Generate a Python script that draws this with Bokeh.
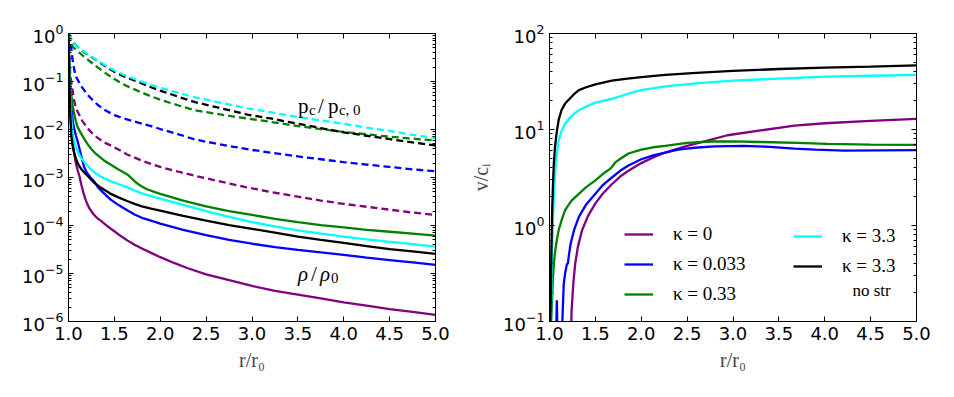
from bokeh.plotting import figure
from bokeh.layouts import row
from bokeh.models import (Range1d, FixedTicker, PrintfTickFormatter, LinearAxis, LogAxis,
                          Legend, LegendItem, Label, CustomJSTickFormatter)
from bokeh.embed import file_html
from bokeh.resources import INLINE

# ---------------- data (stored as log10 of the quantity) -------------
COLORS = {"k0": "#800080", "k0033": "#0000ff", "k033": "#008000", "k33": "#00ffff", "k33ns": "#000000"}

# Left panel: density rho/rho0 (solid)
RHO_X_K0 = [1.0, 1.005, 1.01, 1.02, 1.03, 1.045, 1.065, 1.08, 1.1, 1.12, 1.14, 1.16, 1.18, 1.2, 1.23, 1.27, 1.31, 1.35, 1.42, 1.5, 1.57, 1.64, 1.72, 1.8, 1.9, 2.0, 2.15, 2.3, 2.5, 2.75, 3.0, 3.25, 3.5, 3.75, 4.0, 4.25, 4.5, 4.75, 5.0]
RHO_LOG_K0 = [0, -0.6, -1.0, -1.6, -1.98, -2.3, -2.53, -2.7, -2.85, -2.98, -3.15, -3.30, -3.43, -3.53, -3.65, -3.76, -3.84, -3.90, -4.01, -4.12, -4.22, -4.31, -4.40, -4.48, -4.57, -4.66, -4.78, -4.89, -5.02, -5.14, -5.26, -5.36, -5.44, -5.52, -5.60, -5.67, -5.74, -5.80, -5.86]
RHO_X_K0033 = [1.0, 1.005, 1.01, 1.02, 1.03, 1.047, 1.065, 1.08, 1.1, 1.12, 1.145, 1.17, 1.2, 1.24, 1.28, 1.32, 1.37, 1.46, 1.55, 1.64, 1.72, 1.8, 1.9, 2.0, 2.25, 2.5, 2.75, 3.0, 3.25, 3.5, 3.75, 4.0, 4.25, 4.5, 4.75, 5.0]
RHO_LOG_K0033 = [0, -0.5, -0.9, -1.25, -1.5, -1.84, -2.0, -2.12, -2.25, -2.40, -2.60, -2.78, -2.90, -3.0, -3.08, -3.20, -3.30, -3.46, -3.58, -3.68, -3.77, -3.84, -3.90, -3.96, -4.09, -4.20, -4.30, -4.38, -4.45, -4.51, -4.56, -4.61, -4.67, -4.72, -4.77, -4.82]
RHO_X_K033 = [1.0, 1.005, 1.01, 1.02, 1.03, 1.045, 1.065, 1.08, 1.1, 1.13, 1.17, 1.21, 1.25, 1.3, 1.39, 1.45, 1.5, 1.55, 1.6, 1.65, 1.7, 1.74, 1.77, 1.81, 1.85, 1.92, 2.0, 2.25, 2.5, 2.75, 3.0, 3.25, 3.5, 3.75, 4.0, 4.25, 4.5, 4.75, 5.0]
RHO_LOG_K033 = [0, -0.4, -0.7, -1.05, -1.28, -1.50, -1.70, -1.83, -1.95, -2.06, -2.19, -2.31, -2.41, -2.51, -2.65, -2.72, -2.78, -2.84, -2.89, -2.95, -3.04, -3.11, -3.15, -3.20, -3.24, -3.29, -3.34, -3.48, -3.60, -3.70, -3.78, -3.86, -3.93, -3.99, -4.04, -4.09, -4.13, -4.17, -4.21]
RHO_X_K33 = [1.0, 1.005, 1.01, 1.018, 1.025, 1.035, 1.047, 1.065, 1.09, 1.115, 1.14, 1.17, 1.2, 1.24, 1.28, 1.35, 1.45, 1.55, 1.64, 1.72, 1.8, 1.9, 2.0, 2.25, 2.5, 2.75, 3.0, 3.25, 3.5, 3.75, 4.0, 4.25, 4.5, 4.75, 5.0]
RHO_LOG_K33 = [0, -0.5, -0.9, -1.3, -1.6, -1.9, -2.10, -2.28, -2.42, -2.52, -2.60, -2.67, -2.74, -2.82, -2.89, -2.98, -3.07, -3.14, -3.20, -3.27, -3.33, -3.39, -3.44, -3.57, -3.70, -3.82, -3.93, -4.02, -4.10, -4.17, -4.23, -4.29, -4.34, -4.39, -4.44]
RHO_X_K33NS = [1.0, 1.005, 1.01, 1.015, 1.02, 1.03, 1.045, 1.06, 1.08, 1.095, 1.12, 1.15, 1.18, 1.21, 1.25, 1.28, 1.35, 1.45, 1.55, 1.64, 1.72, 1.8, 1.9, 2.0, 2.25, 2.5, 2.75, 3.0, 3.25, 3.5, 3.75, 4.0, 4.25, 4.5, 4.75, 5.0]
RHO_LOG_K33NS = [0, -0.5, -1.0, -1.4, -1.7, -2.12, -2.33, -2.47, -2.60, -2.68, -2.77, -2.85, -2.91, -2.97, -3.05, -3.11, -3.21, -3.33, -3.42, -3.49, -3.55, -3.60, -3.65, -3.69, -3.80, -3.90, -3.99, -4.07, -4.15, -4.23, -4.30, -4.36, -4.43, -4.49, -4.54, -4.59]

# Left panel: pressure pc/pc,0 (dashed)
PC_X_K0 = [1.0, 1.01, 1.02, 1.036, 1.06, 1.08, 1.1, 1.15, 1.21, 1.28, 1.38, 1.5, 1.64, 1.8, 2.0, 2.2, 2.37, 2.6, 2.93, 3.2, 3.5, 3.75, 4.0, 4.25, 4.5, 4.75, 5.0]
PC_LOG_K0 = [0, -0.5, -0.875, -1.08, -1.38, -1.55, -1.63, -1.82, -1.98, -2.12, -2.26, -2.37, -2.52, -2.65, -2.78, -2.88, -2.96, -3.06, -3.20, -3.30, -3.40, -3.48, -3.55, -3.61, -3.67, -3.73, -3.78]
PC_X_K0033 = [1.0, 1.015, 1.03, 1.045, 1.065, 1.09, 1.14, 1.2, 1.26, 1.32, 1.4, 1.5, 1.6, 1.75, 1.9, 2.0, 2.2, 2.38, 2.6, 2.8, 2.98, 3.2, 3.5, 3.75, 4.0, 4.25, 4.5, 4.75, 5.0]
PC_LOG_K0033 = [0, -0.12, -0.31, -0.55, -0.78, -0.93, -1.10, -1.26, -1.38, -1.49, -1.60, -1.70, -1.77, -1.85, -1.93, -1.99, -2.10, -2.21, -2.29, -2.36, -2.42, -2.48, -2.56, -2.62, -2.68, -2.73, -2.78, -2.83, -2.87]
PC_X_K033 = [1.0, 1.02, 1.047, 1.1, 1.15, 1.2, 1.3, 1.4, 1.5, 1.62, 1.75, 1.9, 2.0, 2.2, 2.38, 2.6, 2.8, 2.95, 3.2, 3.5, 3.75, 4.0, 4.25, 4.5, 4.75, 5.0]
PC_LOG_K033 = [0, -0.15, -0.28, -0.37, -0.45, -0.53, -0.68, -0.82, -0.95, -1.08, -1.19, -1.31, -1.38, -1.50, -1.60, -1.67, -1.73, -1.77, -1.84, -1.93, -1.99, -2.05, -2.10, -2.15, -2.19, -2.23]
PC_X_K33 = [1.0, 1.03, 1.065, 1.1, 1.15, 1.2, 1.25, 1.3, 1.4, 1.5, 1.6, 1.75, 1.9, 2.0, 2.2, 2.38, 2.6, 2.8, 2.95, 3.2, 3.5, 3.75, 4.0, 4.25, 4.5, 4.75, 5.0]
PC_LOG_K33 = [0, -0.12, -0.21, -0.28, -0.35, -0.42, -0.48, -0.54, -0.66, -0.77, -0.86, -0.97, -1.07, -1.13, -1.24, -1.33, -1.42, -1.50, -1.56, -1.64, -1.74, -1.81, -1.88, -1.96, -2.03, -2.11, -2.18]
PC_X_K33NS = [1.0, 1.03, 1.065, 1.1, 1.15, 1.2, 1.25, 1.3, 1.4, 1.5, 1.6, 1.75, 1.9, 2.0, 2.2, 2.38, 2.6, 2.8, 2.95, 3.2, 3.5, 3.75, 4.0, 4.25, 4.5, 4.75, 5.0]
PC_LOG_K33NS = [0, -0.12, -0.21, -0.28, -0.36, -0.43, -0.49, -0.55, -0.68, -0.80, -0.89, -1.00, -1.12, -1.19, -1.32, -1.43, -1.53, -1.62, -1.69, -1.77, -1.88, -1.97, -2.06, -2.13, -2.20, -2.27, -2.33]

# Right panel: velocity v/c_i (solid)
V_X_K0 = [1.23, 1.24, 1.26, 1.28, 1.31, 1.355, 1.42, 1.5, 1.58, 1.68, 1.77, 1.86, 2.0, 2.13, 2.26, 2.5, 2.7, 2.94, 3.3, 3.67, 4.0, 4.5, 5.0]
V_LOG_K0 = [-1.5, -0.9, -0.6, -0.40, -0.22, -0.05, 0.10, 0.23, 0.33, 0.43, 0.51, 0.57, 0.65, 0.71, 0.76, 0.83, 0.88, 0.94, 0.99, 1.04, 1.065, 1.09, 1.11]
V_X_K0033 = [1.04, 1.07, 1.075, 1.08, 1.085, 1.09, 1.13, 1.14, 1.155, 1.17, 1.18, 1.19, 1.20, 1.21, 1.23, 1.27, 1.32, 1.4, 1.5, 1.58, 1.68, 1.77, 1.86, 2.0, 2.13, 2.26, 2.4, 2.58, 2.8, 3.12, 3.4, 3.67, 3.9, 4.21, 4.6, 5.0]
V_LOG_K0033 = [-1.5, -1.5, -1.0, -0.78, -1.0, -1.5, -1.5, -1.0, -0.61, -0.50, -0.45, -0.40, -0.40, -0.32, -0.19, -0.04, 0.09, 0.22, 0.33, 0.42, 0.50, 0.57, 0.625, 0.69, 0.73, 0.76, 0.79, 0.81, 0.825, 0.83, 0.82, 0.80, 0.79, 0.78, 0.783, 0.785]
V_X_K033 = [1.018, 1.025, 1.035, 1.047, 1.06, 1.08, 1.10, 1.13, 1.17, 1.24, 1.32, 1.4, 1.5, 1.6, 1.66, 1.68, 1.72, 1.78, 1.86, 2.0, 2.13, 2.26, 2.5, 2.76, 3.0, 3.3, 3.7, 4.03, 4.5, 5.0]
V_LOG_K033 = [-1.0, -0.85, -0.6, -0.40, -0.28, -0.15, -0.05, 0.05, 0.16, 0.26, 0.33, 0.40, 0.47, 0.55, 0.59, 0.61, 0.66, 0.70, 0.75, 0.79, 0.815, 0.83, 0.86, 0.875, 0.876, 0.87, 0.86, 0.85, 0.843, 0.84]
V_X_K33 = [1.015, 1.025, 1.035, 1.047, 1.06, 1.07, 1.085, 1.10, 1.13, 1.17, 1.22, 1.27, 1.32, 1.4, 1.5, 1.68, 1.85, 2.0, 2.26, 2.6, 3.0, 3.5, 4.0, 4.5, 5.0]
V_LOG_K33 = [-1.0, -0.4, 0.0, 0.30, 0.52, 0.65, 0.79, 0.885, 0.98, 1.06, 1.12, 1.165, 1.20, 1.24, 1.28, 1.32, 1.37, 1.41, 1.45, 1.48, 1.51, 1.53, 1.55, 1.56, 1.57]
V_X_K33NS = [1.01, 1.02, 1.03, 1.04, 1.047, 1.06, 1.08, 1.10, 1.13, 1.17, 1.22, 1.27, 1.32, 1.4, 1.5, 1.68, 1.85, 2.0, 2.26, 2.6, 3.0, 3.5, 4.0, 4.5, 5.0]
V_LOG_K33NS = [-1.0, -0.3, 0.2, 0.48, 0.64, 0.82, 0.98, 1.10, 1.20, 1.27, 1.32, 1.37, 1.41, 1.44, 1.47, 1.51, 1.53, 1.545, 1.57, 1.59, 1.61, 1.63, 1.645, 1.655, 1.667]

LEGEND_LABELS = ["κ = 0", "κ = 0.033", "κ = 0.33", "κ = 3.3", "κ = 3.3"]
X_TICKS = [1.0, 1.5, 2.0, 2.5, 3.0, 3.5, 4.0, 4.5, 5.0]
LEFT_DECADES = [-6, -5, -4, -3, -2, -1, 0]
RIGHT_DECADES = [-1, 0, 1, 2]

TICK_FONT = "DejaVu Sans"
SERIF = "Liberation Serif"
LW = 2.3


def pw(logs):
    return [10.0 ** v for v in logs]


def log_ticker(decades):
    return FixedTicker(ticks=[10.0 ** d for d in decades],
                       minor_ticks=[m * 10.0 ** d for d in decades[:-1] for m in range(2, 10)])


def style(ax, labels=True, minor=True):
    ax.major_tick_in = 5
    ax.major_tick_out = 0
    ax.minor_tick_in = 3
    ax.minor_tick_out = 0
    ax.major_tick_line_color = "black"
    ax.minor_tick_line_color = "black" if minor else None
    ax.axis_line_color = "black"
    ax.major_label_text_font = TICK_FONT
    ax.major_label_text_font_size = "18px" if labels else "0px"
    ax.major_label_text_color = "black"
    ax.major_label_standoff = 5
    if not labels:
        ax.formatter = CustomJSTickFormatter(code="return ''")


def make_fig(ylo, yhi, decades, min_left, min_right):
    p = figure(frame_width=367, frame_height=288, x_range=Range1d(1.0, 5.0), y_range=Range1d(ylo, yhi),
               y_axis_type="log", output_backend="svg", toolbar_location=None,
               min_border_left=min_left, min_border_right=min_right, min_border_top=33, min_border_bottom=60)
    p.xgrid.grid_line_color = None
    p.ygrid.grid_line_color = None
    p.outline_line_color = "black"
    p.background_fill_color = "white"
    p.border_fill_color = "white"
    xa = p.xaxis[0]
    xa.ticker = FixedTicker(ticks=X_TICKS)
    xa.formatter = PrintfTickFormatter(format="%.1f")
    style(xa, labels=True, minor=False)
    xa.axis_label = "r/r₀"
    xa.axis_label_text_font = SERIF
    xa.axis_label_text_font_size = "20px"
    xa.axis_label_text_font_style = "normal"
    xa.axis_label_standoff = 6
    ya = p.yaxis[0]
    ya.ticker = log_ticker(decades)
    style(ya, labels=True, minor=True)
    top = LinearAxis(ticker=FixedTicker(ticks=X_TICKS))
    style(top, labels=False, minor=False)
    p.add_layout(top, "above")
    right = LogAxis(ticker=log_ticker(decades))
    style(right, labels=False, minor=True)
    p.add_layout(right, "right")
    return p


# ---------------- left panel ----------------
p1 = make_fig(1e-6, 1.0, LEFT_DECADES, 68, 32)
solid = [(RHO_X_K0, RHO_LOG_K0, "k0"), (RHO_X_K0033, RHO_LOG_K0033, "k0033"),
         (RHO_X_K033, RHO_LOG_K033, "k033"), (RHO_X_K33, RHO_LOG_K33, "k33"),
         (RHO_X_K33NS, RHO_LOG_K33NS, "k33ns")]
dashed = [(PC_X_K0, PC_LOG_K0, "k0"), (PC_X_K0033, PC_LOG_K0033, "k0033"),
          (PC_X_K033, PC_LOG_K033, "k033"), (PC_X_K33NS, PC_LOG_K33NS, "k33ns"),
          (PC_X_K33, PC_LOG_K33, "k33")]
for xs, ls, key in dashed:
    p1.line(xs, pw(ls), line_color=COLORS[key], line_width=LW, line_dash="7 4")
for xs, ls, key in solid:
    p1.line(xs, pw(ls), line_color=COLORS[key], line_width=LW)


def pieces(p, x, y, parts):
    for text, dx, dy, size, fstyle in parts:
        p.add_layout(Label(x=x, y=y, x_offset=dx, y_offset=dy, text=text, text_font=SERIF,
                           text_font_size=size, text_font_style=fstyle, text_color="black",
                           text_baseline="alphabetic", text_align="left"))


pieces(p1, 3.5, 10 ** -1.5, [("p", 0, 0, "21px", "normal"), ("c", 11, -4, "15px", "normal"),
                              ("/", 20, 0, "21px", "normal"), ("p", 30, 0, "21px", "normal"),
                              ("c, 0", 41, -4, "15px", "normal")])
pieces(p1, 3.5, 1e-5, [("ρ", 0, 0, "21px", "italic"), ("/", 13, 0, "21px", "normal"),
                        ("ρ", 22, 0, "21px", "italic"), ("0", 33, -4, "15px", "normal")])

# ---------------- right panel ----------------
p2 = make_fig(0.1, 100.0, RIGHT_DECADES, 70, 30)
ya2 = p2.yaxis[0]
ya2.axis_label = "v/cᵢ"
ya2.axis_label_text_font = SERIF
ya2.axis_label_text_font_size = "20px"
ya2.axis_label_text_font_style = "normal"
ya2.axis_label_standoff = 8

vel = [(V_X_K0, V_LOG_K0, "k0"), (V_X_K0033, V_LOG_K0033, "k0033"), (V_X_K033, V_LOG_K033, "k033"),
       (V_X_K33, V_LOG_K33, "k33"), (V_X_K33NS, V_LOG_K33NS, "k33ns")]
rends = []
for xs, ls, key in vel:
    rends.append(p2.line(xs, pw(ls), line_color=COLORS[key], line_width=LW))


def make_legend(items, loc):
    lg = Legend(items=items, location=loc, orientation="vertical")
    lg.border_line_color = None
    lg.background_fill_alpha = 0
    lg.label_text_font = SERIF
    lg.label_text_font_size = "19px"
    lg.label_text_color = "black"
    lg.glyph_width = 29
    lg.glyph_height = 20
    lg.label_height = 20
    lg.label_standoff = 20
    lg.spacing = 8
    lg.padding = 0
    lg.margin = 0
    return lg


leg1 = make_legend([LegendItem(label=LEGEND_LABELS[i], renderers=[rends[i]]) for i in range(3)], (75, 16))
leg2 = make_legend([LegendItem(label=LEGEND_LABELS[i], renderers=[rends[i]]) for i in range(3, 5)], (244, 44))
p2.add_layout(leg1)
p2.add_layout(leg2)
p2.add_layout(Label(x=4.51, y=0.21, text="no str", text_font=SERIF, text_font_size="17px",
                    text_color="black", text_align="center", text_baseline="middle"))

layout = row(p1, p2)
open("out.html", "w").write(file_html(layout, INLINE))
